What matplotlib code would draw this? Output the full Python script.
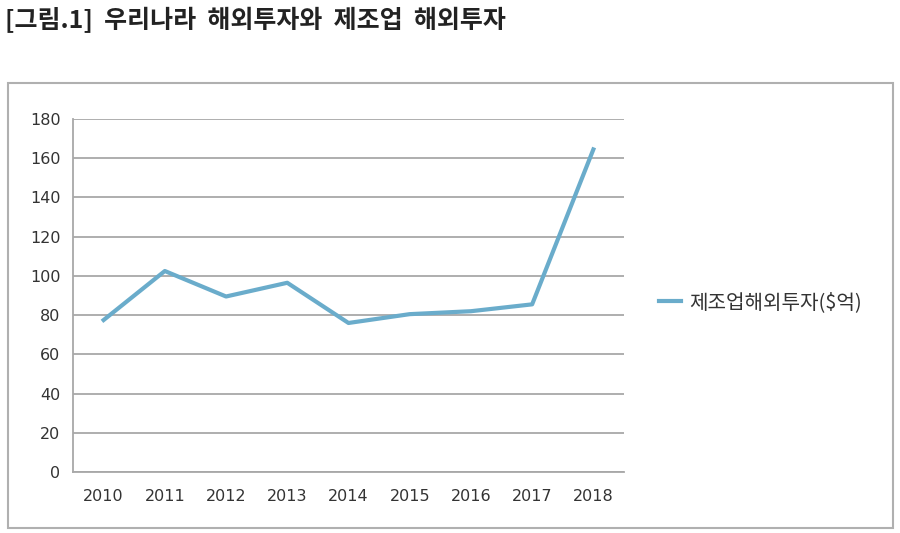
import matplotlib.pyplot as plt
from matplotlib.patches import Rectangle

plt.rcParams['font.family'] = ['Noto Sans CJK KR', 'DejaVu Sans']

# 데이터
years = ["2010", "2011", "2012", "2013", "2014", "2015", "2016", "2017", "2018"]
invest = [77.5, 102.5, 89.5, 96.5, 76, 80.5, 82, 85.5, 164.5]
series_name = "제조업해외투자($억)"
title = "[그림.1]  우리나라  해외투자와  제조업  해외투자"

fig = plt.figure(figsize=(9, 5.33), dpi=100)

# 차트 테두리
fig.patches.append(Rectangle((0.009, 0.009), 0.983, 0.835, transform=fig.transFigure,
                             fill=False, edgecolor='#b0b0b0', linewidth=1.5))

fig.text(0.006, 0.962, title, fontsize=18, fontweight='bold', ha='left', va='center',
         color='#222222')

ax = fig.add_axes([0.0811, 0.1144, 0.6122, 0.6623])
x = range(len(years))
ax.plot(x, invest, color='#6aaccb', linewidth=3, label=series_name)

ax.set_xlim(-0.5, len(years) - 0.5)
ax.set_ylim(0, 180)
ax.set_yticks(range(0, 181, 20))
ax.set_xticks(list(x))
ax.set_xticklabels(years)
ax.yaxis.grid(True, color='#a8a8a8', linewidth=1.3)
ax.set_axisbelow(True)
ax.tick_params(length=0, labelsize=11.5, colors='#333333', pad=9)
ax.tick_params(axis='x', pad=12)
for lbl in ax.get_xticklabels() + ax.get_yticklabels():
    lbl.set_family('DejaVu Sans')
for s in ['top', 'right']:
    ax.spines[s].set_visible(False)
for s in ['left', 'bottom']:
    ax.spines[s].set_color('#a8a8a8')
    ax.spines[s].set_linewidth(1.3)

ax.legend(loc='center left', bbox_to_anchor=(0.712, 0.433), bbox_transform=fig.transFigure,
          frameon=False, fontsize=14.5, handlelength=1.1, handletextpad=0.4,
          labelcolor='#333333')

fig.savefig('out.png', dpi=100)
